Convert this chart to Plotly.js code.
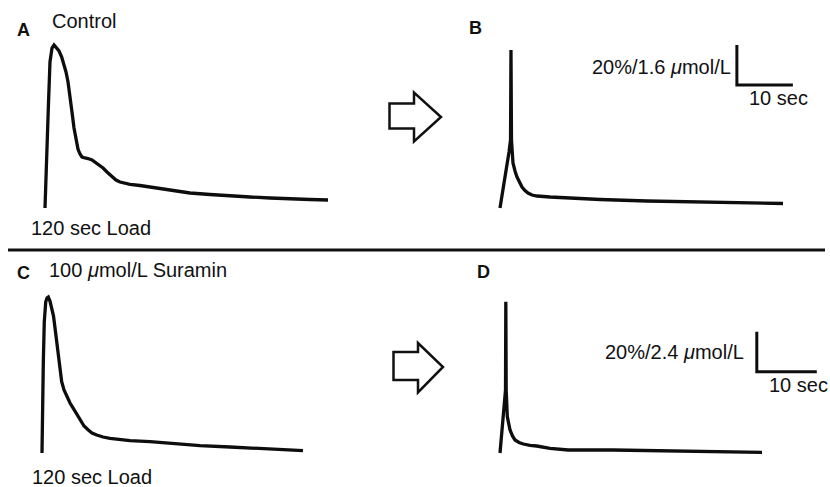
<!DOCTYPE html>
<html>
<head>
<meta charset="utf-8">
<script src="https://cdn.plot.ly/plotly-3.0.1.min.js"></script>
<style>html,body{margin:0;padding:0;background:#fff;}#chart{width:830px;height:487px;}</style>
</head>
<body>
<div id="chart"></div>
<script>
// ---- Data (time in sec, fluorescence change in %) ----
const timeA = [0,0.18,0.41,0.63,0.89,1.25,1.61,2.09,2.5,2.98,3.39,3.75,4.11,4.46,4.82,5.18,5.54,5.89,6.25,6.61,7.14,7.68,8.39,8.93,9.64,10.36,11.07,11.96,12.68,13.39,14.29,15.18,16.96,19.64,22.32,25.89,29.46,33.04,36.6,40.18,43.75,47.32,50.54];
const valA  = [0,18,35,53,73,80,81.5,80,78.5,75.5,72,68,63,56.5,48,40,34,29.5,27,25.5,25,24.75,24,23,21.5,20,18,15.65,14,13,12.25,11.85,11.25,10,8.75,7.5,6.75,6,5.5,5,4.5,4.25,4];

const timeB = [0,0.54,0.89,1.25,1.61,1.88,1.96,2.05,2.14,2.32,2.68,3.04,3.57,3.93,4.46,5.0,5.71,6.61,8.93,12.14,17.86,26.25,35.71,44.64,50.54];
const valB  = [0,9,15,20.5,28,34,79,34,28,22.5,18.5,15.5,12.5,10.5,8.75,7.5,6.5,6,5.5,5,4.25,3.5,3,2.5,2.25];

const timeC = [0,0.05,0.22,0.38,0.62,0.83,1.05,1.33,1.62,1.92,2.17,2.45,2.72,3.0,3.28,3.67,4.12,4.67,5.22,5.83,6.33,7.0,7.72,8.33,9.12,10.17,11.33,13,14.67,18,22.17,26.33,31.33,36.33,40.5,43.5];
const valC  = [0,15.5,45.5,65.5,75.5,77.5,78,76,73,68.5,62.5,56,49,42,35.65,31.5,28.15,25,22.35,19.25,16.5,13.5,11.5,10,9,8,7.35,6.7,6.15,5.65,4.75,3.65,3,2.35,1.65,1.15];

const timeD = [0,0.38,0.67,0.83,0.92,0.97,1.03,1.22,1.42,1.67,2.08,2.5,3.17,3.88,5,6.12,8.33,11.38,18.83,25,33.33,43.67];
const valD  = [0,11.5,20,25.65,31.5,75.65,31.5,18.15,14.5,11.5,8.5,6.5,5.25,4.5,3.85,3.5,2.35,1.5,1.5,1.25,1,0.35];

// scale bars
const scaleSec = 10;
const scalePct = 20;
const scaleLabelB = "20%/1.6 <i>\u03bc</i>mol/L";
const scaleLabelD = "20%/2.4 <i>\u03bc</i>mol/L";
const timeLabel = "10 sec";
const panelLetters = ["A","B","C","D"];
const condTop = "Control";
const condBottom = "100 <i>\u03bc</i>mol/L Suramin";
const loadLabel = "120 sec Load";

// ---- Layout geometry ----
const W = 830, H = 487;
const FONT = "Liberation Sans, Arial, Helvetica, sans-serif";

// panel boxes in px and mapping (origin px, px per sec, px per %)
const panels = [
  {box:[30,340,30,215], ox:45,  oy:208, sx:5.6, sy:2.0},
  {box:[490,800,30,215], ox:500, oy:208, sx:5.6, sy:2.0},
  {box:[30,340,285,460], ox:42,  oy:453, sx:6.0, sy:2.0},
  {box:[490,826,285,460], ox:500, oy:453, sx:6.0, sy:2.0}
];
function axisPair(p){
  const [x0,x1,y0,y1] = p.box;
  return {
    x:{domain:[x0/W, x1/W], range:[(x0-p.ox)/p.sx, (x1-p.ox)/p.sx], visible:false, fixedrange:true},
    y:{domain:[1-y1/H, 1-y0/H], range:[(p.oy-y1)/p.sy, (p.oy-y0)/p.sy], visible:false, fixedrange:true}
  };
}

const line = {color:"#0d0d0d", width:3.3};
const traces = [
  {x:timeA, y:valA, xaxis:"x",  yaxis:"y"},
  {x:timeB, y:valB, xaxis:"x2", yaxis:"y2"},
  {x:timeC, y:valC, xaxis:"x3", yaxis:"y3"},
  {x:timeD, y:valD, xaxis:"x4", yaxis:"y4"}
].map(t => Object.assign(t, {type:"scatter", mode:"lines", line:line, hoverinfo:"skip", showlegend:false}));

// scale bars (in data units of panels B and D)
const barB = {t0:42.3, v0:61.5};
const barD = {t0:42.8, v0:40.65};
traces.push({x:[barB.t0, barB.t0, barB.t0+scaleSec], y:[barB.v0+scalePct, barB.v0, barB.v0], xaxis:"x2", yaxis:"y2",
  type:"scatter", mode:"lines", line:{color:"#0d0d0d", width:3}, hoverinfo:"skip", showlegend:false});
traces.push({x:[barD.t0, barD.t0, barD.t0+scaleSec], y:[barD.v0+scalePct, barD.v0, barD.v0], xaxis:"x4", yaxis:"y4",
  type:"scatter", mode:"lines", line:{color:"#0d0d0d", width:3}, hoverinfo:"skip", showlegend:false});

const layout = {
  width:W, height:H,
  margin:{l:0,r:0,t:0,b:0},
  paper_bgcolor:"#fff", plot_bgcolor:"rgba(0,0,0,0)",
  font:{family:FONT, color:"#111"},
  showlegend:false
};
panels.forEach((p,i)=>{
  const a = axisPair(p);
  const s = i===0 ? "" : String(i+1);
  a.x.anchor = "y"+s; a.y.anchor = "x"+s;
  layout["xaxis"+s] = a.x;
  layout["yaxis"+s] = a.y;
});

function px(x,y){ return (x/W).toFixed(5)+","+(1-y/H).toFixed(5); }
function arrowPath(a){
  return "M"+px(a.l,a.st)+" L"+px(a.hb,a.st)+" L"+px(a.hb,a.ht)+" L"+px(a.tip,a.ty)+
         " L"+px(a.hb,a.hbot)+" L"+px(a.hb,a.sb)+" L"+px(a.l,a.sb)+" Z";
}
const arrow1 = {l:389.5, st:103.5, sb:128.5, hb:414, ht:92.5, hbot:141.5, tip:441, ty:117};
const arrow2 = {l:393.5, st:352, sb:380, hb:418, ht:343, hbot:392.5, tip:443, ty:367};

layout.shapes = [
  {type:"line", xref:"paper", yref:"paper", x0:8/W, x1:825/W, y0:1-250/H, y1:1-250/H, line:{color:"#111", width:3}},
  {type:"path", xref:"paper", yref:"paper", path:arrowPath(arrow1), line:{color:"#111", width:2.5}, fillcolor:"#fff"},
  {type:"path", xref:"paper", yref:"paper", path:arrowPath(arrow2), line:{color:"#111", width:2.5}, fillcolor:"#fff"}
];

function ann(text, x, y, xanchor, size, bold){
  return {text: bold ? "<b>"+text+"</b>" : text, xref:"paper", yref:"paper", x:x/W, y:1-y/H,
          xanchor:xanchor, yanchor:"middle", showarrow:false, borderpad:0,
          font:{family:FONT, size:size, color:"#111"}};
}
layout.annotations = [
  ann(panelLetters[0], 23, 30, "center", 18, true),
  ann(panelLetters[1], 475, 28.5, "center", 18, true),
  ann(panelLetters[2], 23, 273, "center", 18, true),
  ann(panelLetters[3], 483, 272, "center", 18, true),
  ann(condTop, 51, 21, "left", 20, false),
  ann(condBottom, 48, 270, "left", 20, false),
  ann(loadLabel, 30, 228, "left", 20, false),
  ann(loadLabel, 31, 477, "left", 20, false),
  ann(scaleLabelB, 732, 66.5, "right", 20, false),
  ann(timeLabel, 778, 98.5, "center", 20, false),
  ann(scaleLabelD, 745, 352, "right", 20, false),
  ann(timeLabel, 768, 385, "left", 20, false)
];

Plotly.newPlot("chart", traces, layout, {staticPlot:true, displayModeBar:false});
</script>
</body>
</html>
